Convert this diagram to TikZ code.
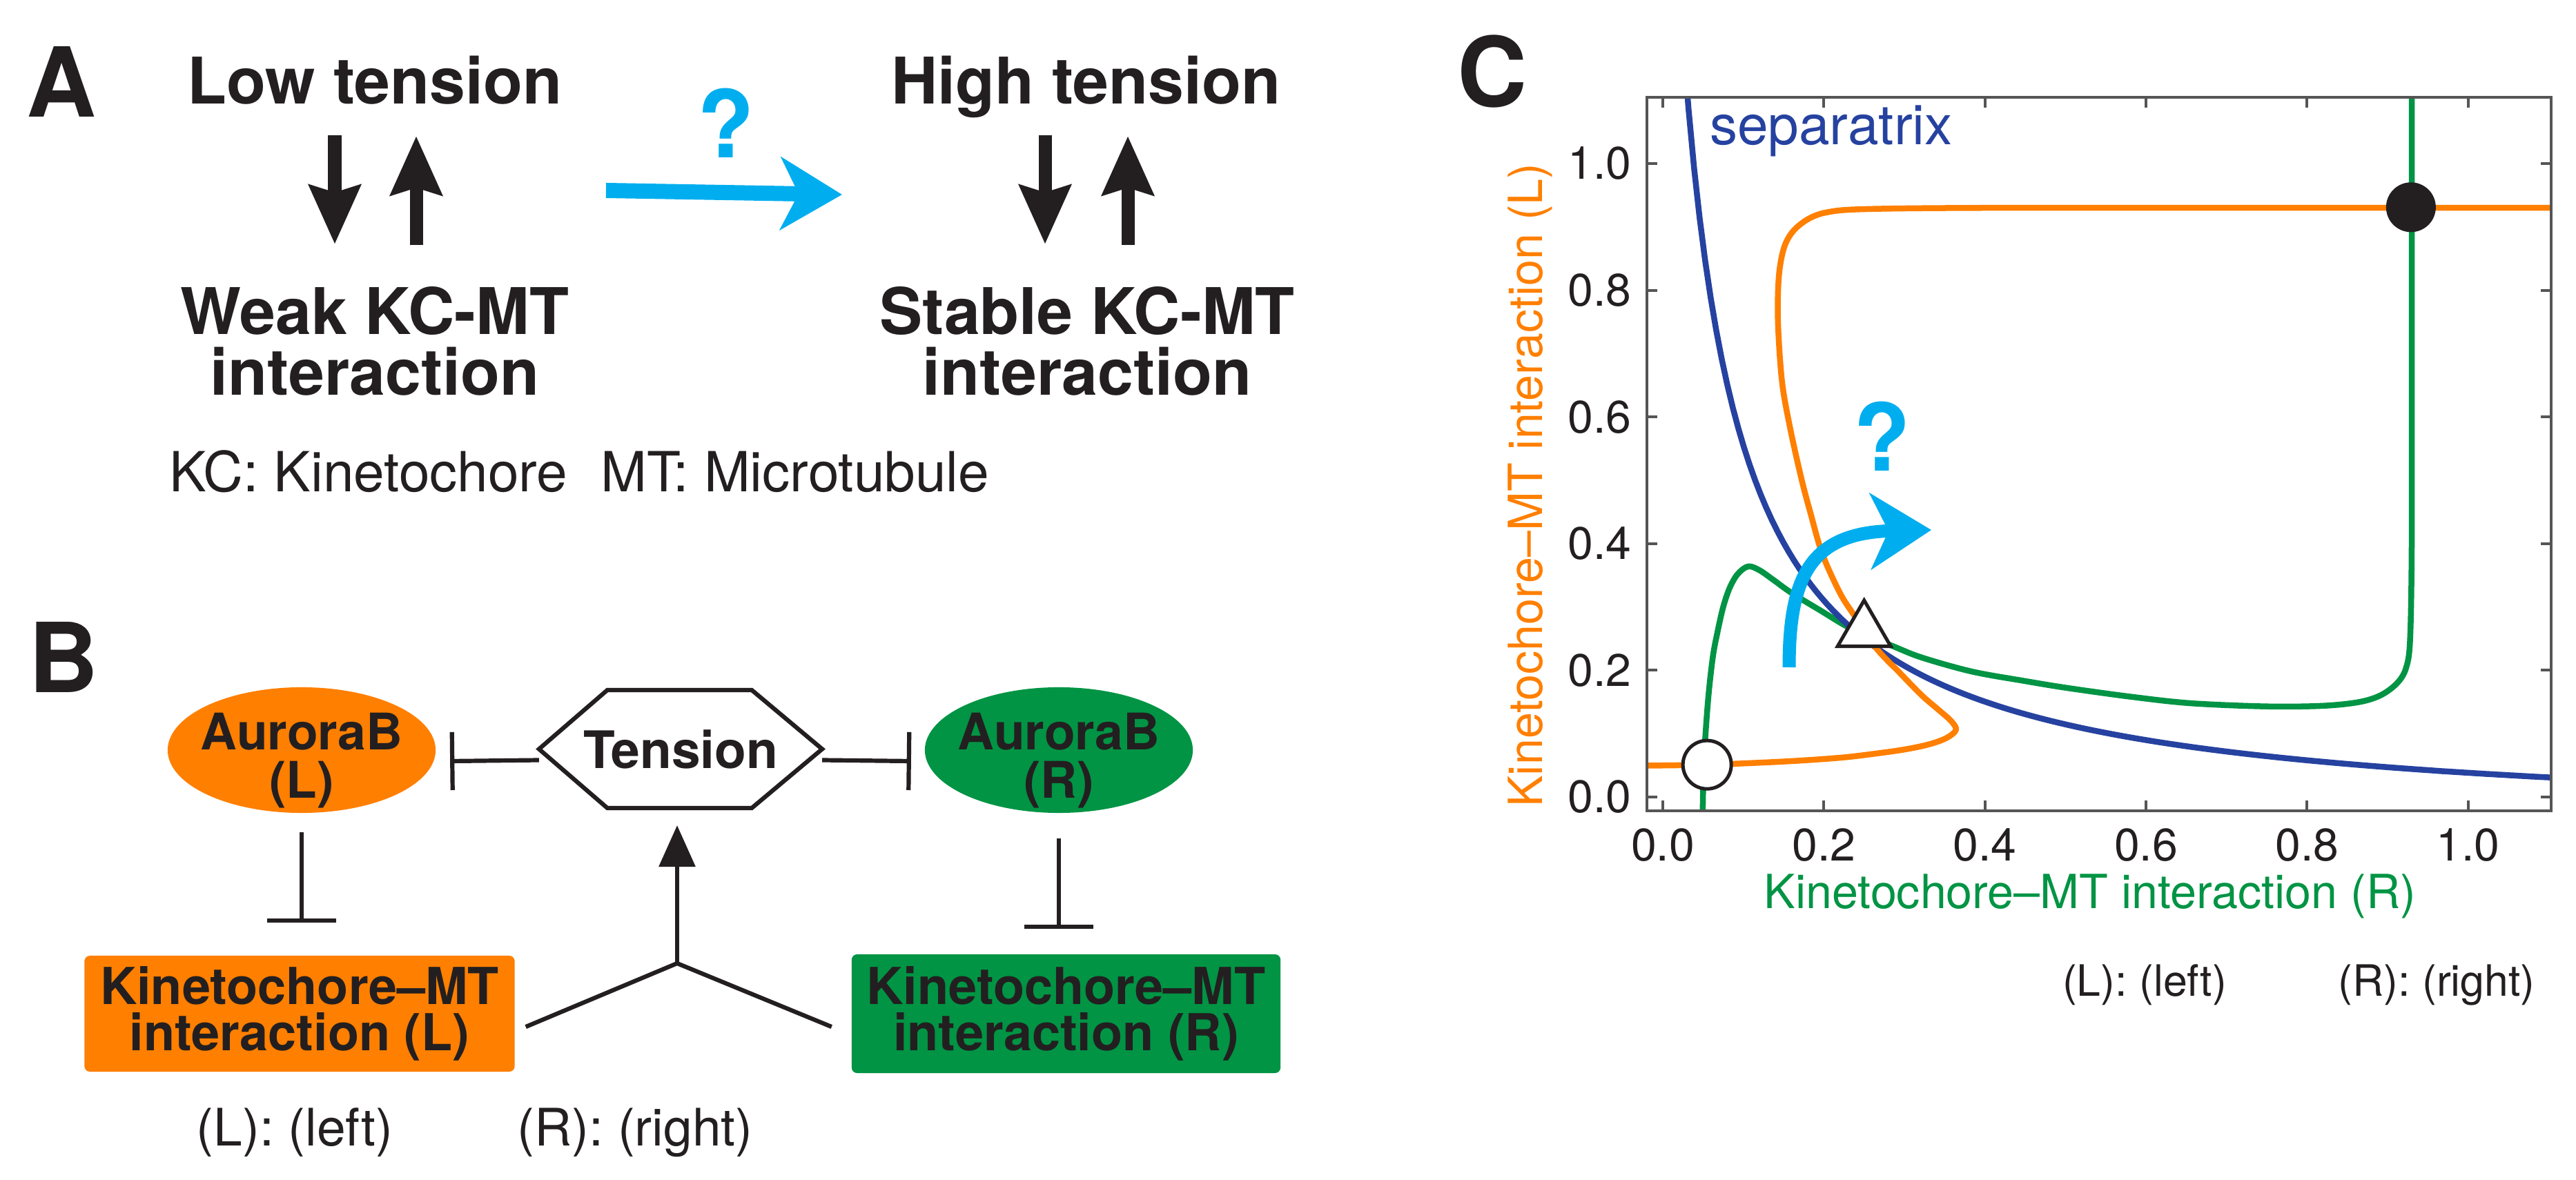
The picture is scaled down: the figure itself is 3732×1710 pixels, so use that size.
\documentclass[tikz,border=0pt]{standalone}
\usepackage{fontspec}
\setmainfont{TeX Gyre Heros}
\usetikzlibrary{arrows.meta, shapes.geometric}
\definecolor{orA}{RGB}{255,127,0}
\definecolor{grA}{RGB}{0,148,68}
\definecolor{blA}{RGB}{38,66,160}
\definecolor{cyA}{RGB}{0,174,239}
\definecolor{inkA}{RGB}{35,31,32}
\definecolor{frA}{RGB}{85,85,85}
\begin{document}
\begin{tikzpicture}[x=0.01cm, y=-0.01cm]
\tikzset{
  every node/.style={inner sep=0pt, outer sep=0pt, text=inkA},
  panel/.style={font=\fontsize{39.8pt}{40pt}\selectfont\bfseries, anchor=base},
  headA/.style={font=\fontsize{26.5pt}{24.8pt}\selectfont\bfseries, align=center},
  legA/.style={font=\fontsize{22.8pt}{24pt}\selectfont},
  qmark/.style={font=\fontsize{38.4pt}{40pt}\selectfont\bfseries, text=cyA, anchor=base},
  aurtxt/.style={font=\fontsize{20.8pt}{19.8pt}\selectfont\bfseries, align=center},
  tentxt/.style={font=\fontsize{21.3pt}{22pt}\selectfont\bfseries},
  kmttxt/.style={font=\fontsize{21pt}{19.2pt}\selectfont\bfseries, align=center},
  legB/.style={font=\fontsize{21.3pt}{22pt}\selectfont, anchor=base},
  legC/.style={font=\fontsize{17.8pt}{20pt}\selectfont, anchor=base},
  axlbl/.style={font=\fontsize{19.4pt}{20pt}\selectfont},
  ticklbl/.style={font=\fontsize{18.8pt}{20pt}\selectfont},
  seplbl/.style={font=\fontsize{22.8pt}{24pt}\selectfont, text=blA, anchor=base west},
  blk/.style={draw=inkA, line width=0.19cm, -{Stealth[length=0.85cm, width=0.73cm, inset=0.1cm]}},
  cyarr/.style={draw=cyA, line width=0.22cm, -{Stealth[length=0.89cm, width=1.05cm, inset=0.26cm]}},
  cyarrC/.style={draw=cyA, line width=0.19cm, -{Stealth[length=0.88cm, width=1.1cm, inset=0.26cm]}},
  conn/.style={draw=inkA, line width=0.062cm},
  inhH/.style={conn, -{Bar[width=0.84cm]}},
  inhV/.style={conn, -{Bar[width=1.0cm]}},
  act/.style={conn, -{Triangle[length=0.6cm, width=0.52cm]}},
  hexline/.style={draw=inkA, line width=0.062cm, line join=miter},
  boxL/.style={rectangle, rounded corners=0.08cm, fill=orA, minimum width=6.23cm, minimum height=1.68cm, kmttxt},
  boxR/.style={rectangle, rounded corners=0.08cm, fill=grA, minimum width=6.21cm, minimum height=1.72cm, kmttxt},
  curve/.style={line width=0.085cm, line cap=round, line join=round},
  frame/.style={draw=frA, line width=0.04cm},
  tick/.style={draw=frA, line width=0.04cm}
}
\useasboundingbox (0,0) rectangle (3732,1710);
\fill[white] (0,0) rectangle (3732,1710);

% ---------------- Panel A ----------------
\node[panel] (labA) at (89,170) {A};
\node[headA, anchor=base] (lowT) at (543,151) {Low tension};
\node[headA] (weak) at (543,494.5) {Weak KC-MT\\interaction};
\node[headA, anchor=base] (highT) at (1573,151) {High tension};
\node[headA] (stable) at (1575,494.5) {Stable KC-MT\\interaction};
\node[legA, anchor=base west] (kcleg) at (245,713) {KC: Kinetochore\hspace{0.6em}MT: Microtubule};
\node[qmark] (qA) at (1052,229) {?};

\coordinate (a1s) at (485,196);  \coordinate (a1e) at (485,354);
\coordinate (a2s) at (603,355);  \coordinate (a2e) at (603,197);
\coordinate (a3s) at (1514,196); \coordinate (a3e) at (1514,354);
\coordinate (a4s) at (1634,355); \coordinate (a4e) at (1634,197);
\draw[blk] (a1s) -- (a1e);
\draw[blk] (a2s) -- (a2e);
\draw[blk] (a3s) -- (a3e);
\draw[blk] (a4s) -- (a4e);

\coordinate (cAs) at (878,276); \coordinate (cAe) at (1220,282);
\draw[cyarr] (cAs) -- (cAe);

% ---------------- Panel B ----------------
\node[panel] (labB) at (92,1004) {B};
\node[ellipse, fill=orA, minimum width=3.88cm, minimum height=1.82cm] (aurL) at (437,1087) {};
\node[aurtxt] (aurLt) at ([yshift=-0.15cm]aurL.center) {AuroraB\\(L)};
\node[ellipse, fill=grA, minimum width=3.88cm, minimum height=1.82cm] (aurR) at (1534,1087) {};
\node[aurtxt] (aurRt) at ([yshift=-0.15cm]aurR.center) {AuroraB\\(R)};

\node[tentxt, minimum width=4.10cm, minimum height=1.71cm] (tension) at (986,1085.5) {Tension};
\draw[hexline] (tension.west) -- ([xshift=0.99cm]tension.north west) -- ([xshift=-1.02cm]tension.north east)
  -- (tension.east) -- ([xshift=-1.02cm]tension.south east) -- ([xshift=0.99cm]tension.south west) -- cycle;

\node[boxL] (kmtL) at (434,1469) {Kinetochore–MT\\interaction (L)};
\node[boxR] (kmtR) at (1544.5,1469) {Kinetochore–MT\\interaction (R)};

\draw[inhH] ([yshift=-0.16cm]tension.west) -- ([xshift=0.21cm,yshift=-0.16cm]aurL.east);
\draw[inhH] ([yshift=-0.16cm]tension.east) -- ([xshift=-0.2cm,yshift=-0.16cm]aurR.west);
\draw[inhV, shorten >=0.48cm] ([yshift=-0.28cm]aurL.south) -- (aurL.south |- kmtL.north);
\draw[inhV, shorten >=0.37cm] ([yshift=-0.37cm]aurR.south) -- (aurR.south |- kmtR.north);

\coordinate (jn) at (981,1396);
\coordinate (jL) at ([xshift=0.16cm,yshift=-0.19cm]kmtL.east);
\coordinate (jR) at ([xshift=-0.29cm,yshift=-0.19cm]kmtR.west);
\draw[conn] (jL) -- (jn) -- (jR);
\draw[act, shorten >=0.25cm] (jn) -- (jn |- tension.south);

\node[legB] (legBL) at (427,1660) {(L): (left)};
\node[legB] (legBR) at (920,1660) {(R): (right)};

% ---------------- Panel C ----------------
\node[panel] (labC) at (2162,155) {C};
\begin{scope}[shift={(2409,1155)}, x=11.66cm, y=9.175cm]
  \begin{scope}
    \clip (-0.02,-0.022) rectangle (1.103,1.105);
    \draw[curve, grA] plot[smooth, tension=0.55] coordinates {
      (0.0495,-0.03) (0.051,0.055) (0.056,0.15) (0.062,0.22) (0.068,0.261) (0.075,0.30)
      (0.083,0.33) (0.093,0.352) (0.106,0.364) (0.12,0.358) (0.137,0.343) (0.160,0.322)
      (0.195,0.295) (0.235,0.265) (0.286,0.238) (0.322,0.22) (0.384,0.198) (0.45,0.183)
      (0.503,0.172) (0.583,0.158) (0.656,0.148) (0.75,0.143) (0.82,0.144) (0.865,0.150)
      (0.892,0.161) (0.912,0.18) (0.923,0.204) (0.928,0.25) (0.930,0.4) (0.930,0.7) (0.930,1.12)};
    \draw[curve, blA] plot[domain=0.025:1.12, samples=160] (\x, {0.087/(\x+0.045)-0.045});
    \draw[curve, orA] plot[smooth, tension=0.55] coordinates {
      (-0.03,0.0495) (0.055,0.051) (0.15,0.056) (0.22,0.062) (0.261,0.068) (0.30,0.075)
      (0.33,0.083) (0.352,0.093) (0.364,0.106) (0.358,0.12) (0.343,0.137) (0.322,0.160)
      (0.295,0.195) (0.265,0.235) (0.238,0.286) (0.22,0.322) (0.198,0.384) (0.183,0.45)
      (0.172,0.503) (0.158,0.583) (0.148,0.656) (0.143,0.75) (0.144,0.82) (0.150,0.865)
      (0.161,0.892) (0.18,0.912) (0.204,0.923) (0.25,0.928) (0.4,0.930) (0.7,0.930) (1.12,0.930)};
  \end{scope}
  \draw[frame] (-0.02,-0.022) rectangle (1.103,1.105);
  \foreach \t/\l in {0/0.0,0.2/0.2,0.4/0.4,0.6/0.6,0.8/0.8,1/1.0} {
    \draw[tick] (\t,-0.022) -- ++(0,0.15cm);
    \draw[tick] (\t,1.105) -- ++(0,-0.15cm);
    \draw[tick] (-0.02,\t) -- ++(0.15cm,0);
    \draw[tick] (1.103,\t) -- ++(-0.15cm,0);
    \node[ticklbl, anchor=north] at ([yshift=-0.25cm]\t,-0.022) {\l};
    \node[ticklbl, anchor=east] at ([xshift=-0.22cm]-0.02,\t) {\l};
  }
  \node[circle, draw=inkA, line width=0.05cm, fill=white, minimum size=0.70cm] (stLo) at (0.055,0.051) {};
  \node[regular polygon, regular polygon sides=3, draw=inkA, line width=0.05cm, fill=white, minimum size=0.89cm] (saddle) at (0.25,0.262) {};
  \node[circle, fill=inkA, minimum size=0.72cm] (stHi) at (0.929,0.931) {};
\end{scope}

\coordinate (cCs) at (2592,967); \coordinate (cCe) at (2798,768);
\draw[cyarrC] (cCs) .. controls (2592,840) and (2620,772) .. (cCe);
\node[qmark] (qC) at (2727,683) {?};

\node[seplbl] (sepl) at (2477,210) {separatrix};
\node[axlbl, text=grA, anchor=base] (xlab) at (3028,1317) {Kinetochore–MT interaction (R)};
\node[axlbl, text=orA, anchor=base, rotate=90] (ylab) at (2234,703) {Kinetochore–MT interaction (L)};

\node[legC] (legCL) at (3107,1443) {(L): (left)};
\node[legC] (legCR) at (3530,1443) {(R): (right)};
\end{tikzpicture}
\end{document}
